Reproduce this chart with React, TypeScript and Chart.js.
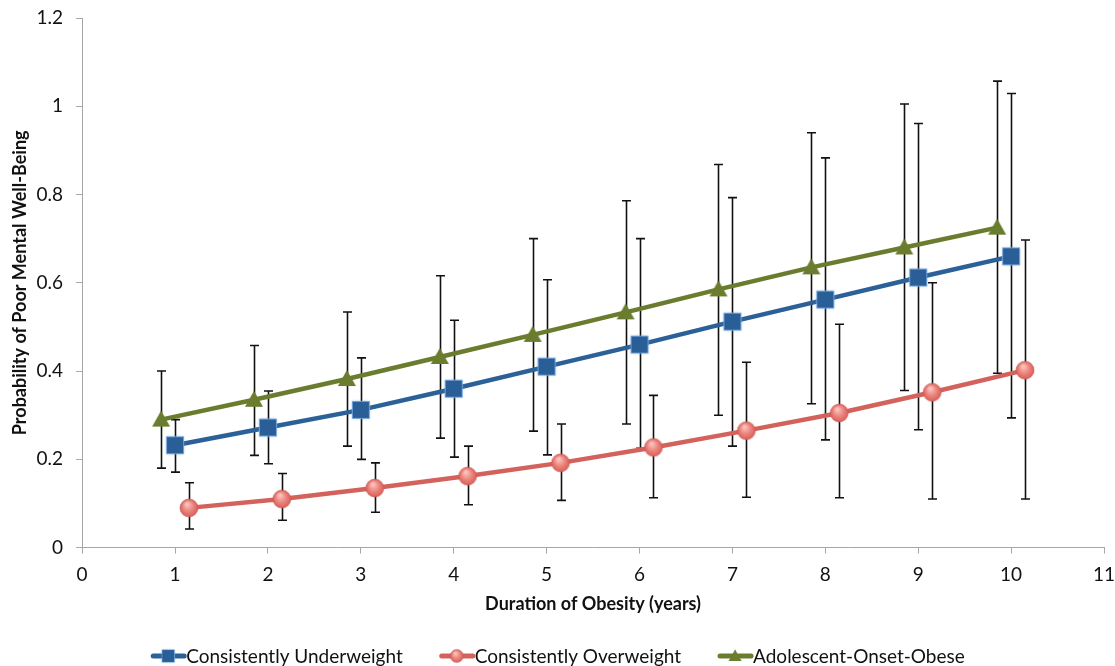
import React, { useEffect, useRef } from "react";
import { Chart, registerables } from "chart.js";

Chart.register(...registerables);

const durations = [1, 2, 3, 4, 5, 6, 7, 8, 9, 10];

const underweight = [0.232, 0.272, 0.312, 0.36, 0.41, 0.46, 0.512, 0.562, 0.612, 0.66];
const underweightLow = [0.171, 0.19, 0.2, 0.205, 0.21, 0.225, 0.23, 0.244, 0.267, 0.294];
const underweightHigh = [0.29, 0.355, 0.43, 0.515, 0.607, 0.70, 0.793, 0.883, 0.961, 1.029];

const overweight = [0.09, 0.11, 0.135, 0.162, 0.192, 0.227, 0.265, 0.305, 0.352, 0.402];
const overweightLow = [0.042, 0.062, 0.08, 0.097, 0.107, 0.113, 0.114, 0.113, 0.11, 0.11];
const overweightHigh = [0.147, 0.168, 0.192, 0.23, 0.28, 0.345, 0.42, 0.506, 0.60, 0.697];

const adolescent = [0.29, 0.335, 0.382, 0.432, 0.482, 0.533, 0.585, 0.635, 0.68, 0.725];
const adolescentLow = [0.18, 0.209, 0.23, 0.248, 0.264, 0.28, 0.30, 0.326, 0.356, 0.395];
const adolescentHigh = [0.40, 0.458, 0.534, 0.616, 0.70, 0.786, 0.868, 0.94, 1.005, 1.057];

const seriesNames = ["Consistently Underweight", "Consistently Overweight", "Adolescent-Onset-Obese"];
const yTicks = [0, 0.2, 0.4, 0.6, 0.8, 1, 1.2];

const BLUE = "#2c6198";
const RED = "#d4625c";
const GREEN = "#6a7d2e";
const FONT = "Lato";

function makeMarker(kind: string): HTMLCanvasElement {
  const w = 22;
  const h = 22;
  const c = document.createElement("canvas");
  c.width = w;
  c.height = h;
  const ctx = c.getContext("2d")!;
  const cx = w / 2;
  const cy = h / 2;
  if (kind === "square") {
    ctx.shadowColor = "rgba(120,170,230,0.9)";
    ctx.shadowBlur = 3;
    ctx.fillStyle = "#2a5e96";
    ctx.fillRect(cx - 8, cy - 8, 16, 16);
    ctx.shadowBlur = 0;
    ctx.strokeStyle = "rgba(110,160,215,0.9)";
    ctx.lineWidth = 1;
    ctx.strokeRect(cx - 8.5, cy - 8.5, 17, 17);
  } else if (kind === "circle") {
    const g = ctx.createRadialGradient(cx - 2, cy - 4, 1, cx, cy, 9);
    g.addColorStop(0, "#fbc3bd");
    g.addColorStop(0.5, "#ee8882");
    g.addColorStop(1, "#d85f58");
    ctx.fillStyle = g;
    ctx.beginPath();
    ctx.arc(cx, cy, 9, 0, Math.PI * 2);
    ctx.fill();
    ctx.strokeStyle = "rgba(200,90,85,0.6)";
    ctx.lineWidth = 1;
    ctx.stroke();
  } else {
    ctx.fillStyle = GREEN;
    ctx.beginPath();
    ctx.moveTo(cx, cy - 9);
    ctx.lineTo(cx + 9, cy + 7);
    ctx.lineTo(cx - 9, cy + 7);
    ctx.closePath();
    ctx.fill();
  }
  return c;
}

const errorBarPlugin = {
  id: "errorBars",
  beforeDatasetsDraw(chart: any) {
    const ctx = chart.ctx;
    const yScale = chart.scales.y;
    ctx.save();
    ctx.strokeStyle = "#111";
    ctx.lineWidth = 1.6;
    chart.data.datasets.forEach((ds: any, i: number) => {
      const meta = chart.getDatasetMeta(i);
      meta.data.forEach((pt: any, j: number) => {
        const x = Math.round(pt.x) + 0.5;
        const yl = yScale.getPixelForValue(ds.errLow[j]);
        const yh = yScale.getPixelForValue(ds.errHigh[j]);
        ctx.beginPath();
        ctx.moveTo(x, yl);
        ctx.lineTo(x, yh);
        ctx.moveTo(x - 4.5, yl);
        ctx.lineTo(x + 4.5, yl);
        ctx.moveTo(x - 4.5, yh);
        ctx.lineTo(x + 4.5, yh);
        ctx.stroke();
      });
    });
    ctx.restore();
  },
};

const bottomLegendPlugin = {
  id: "bottomLegend",
  afterDraw(chart: any) {
    const ctx = chart.ctx;
    const datasets = chart.data.datasets;
    const lineLen = 36;
    const gap = 36;
    ctx.save();
    ctx.font = `19px ${FONT}`;
    ctx.textBaseline = "middle";
    ctx.textAlign = "left";
    const widths = datasets.map((ds: any) => lineLen + ctx.measureText(ds.label).width);
    const total = widths.reduce((a: number, b: number) => a + b, 0) + gap * (datasets.length - 1);
    let x = (chart.width - total) / 2;
    const cy = chart.height - 10;
    datasets.forEach((ds: any, i: number) => {
      ctx.strokeStyle = ds.borderColor;
      ctx.lineWidth = 5;
      ctx.lineCap = "round";
      ctx.beginPath();
      ctx.moveTo(x + 3, cy);
      ctx.lineTo(x + lineLen - 2, cy);
      ctx.stroke();
      const img = ds.pointStyle;
      ctx.drawImage(img, x + lineLen / 2 - 8, cy - 8, 16, 16);
      ctx.fillStyle = "#111";
      ctx.fillText(ds.label, x + lineLen, cy + 1);
      x += widths[i] + gap;
    });
    ctx.restore();
  },
};

export default function App() {
  const ref = useRef<HTMLCanvasElement>(null);
  useEffect(() => {
    document.body.style.margin = "0";
    const markers = {
      square: makeMarker("square"),
      circle: makeMarker("circle"),
      triangle: makeMarker("triangle"),
    };
    const build = (vals: number[], off: number) => vals.map((v, i) => ({ x: durations[i] + off, y: v }));
    const chart = new Chart(ref.current!, {
      type: "line",
      data: {
        datasets: [
          {
            label: seriesNames[0],
            data: build(underweight, 0),
            errLow: underweightLow,
            errHigh: underweightHigh,
            borderColor: BLUE,
            borderWidth: 4.5,
            pointStyle: markers.square,
            order: 2,
          } as any,
          {
            label: seriesNames[1],
            data: build(overweight, 0.15),
            errLow: overweightLow,
            errHigh: overweightHigh,
            borderColor: RED,
            borderWidth: 4.5,
            pointStyle: markers.circle,
            order: 3,
          } as any,
          {
            label: seriesNames[2],
            data: build(adolescent, -0.15),
            errLow: adolescentLow,
            errHigh: adolescentHigh,
            borderColor: GREEN,
            borderWidth: 4.5,
            pointStyle: markers.triangle,
            order: 1,
          } as any,
        ],
      },
      options: {
        animation: false,
        responsive: false,
        layout: { padding: { top: 4, right: 0, left: 9, bottom: 51 } },
        plugins: {
          tooltip: { enabled: false },
          legend: { display: false },
        },
        scales: {
          x: {
            type: "linear",
            min: 0,
            max: 11,
            afterFit: (s: any) => {
              s.paddingRight = 11;
            },
            ticks: { stepSize: 1, color: "#111", font: { family: FONT, size: 19 }, padding: 10 },
            grid: { display: true, drawOnChartArea: false, tickLength: 6, color: "#a6a6a6" },
            border: { color: "#a6a6a6", width: 1 },
            title: {
              display: true,
              text: "Duration of Obesity (years)",
              color: "#111",
              font: { family: FONT, size: 18, weight: "bold" },
              padding: { top: -3, bottom: 0 },
            },
          },
          y: {
            min: 0,
            max: 1.2,
            afterFit: (s: any) => {
              s.paddingTop = 18;
            },
            afterBuildTicks: (s: any) => {
              s.ticks = yTicks.map((v) => ({ value: v }));
            },
            ticks: {
              color: "#111",
              font: { family: FONT, size: 19 },
              padding: 13,
              callback: (v: any) => String(Math.round(Number(v) * 10) / 10),
            },
            grid: { display: true, drawOnChartArea: false, tickLength: 6, color: "#a6a6a6" },
            border: { color: "#a6a6a6", width: 1 },
            title: {
              display: true,
              text: "Probability of Poor Mental Well-Being",
              color: "#111",
              font: { family: FONT, size: 18, weight: "bold" },
              padding: { top: 0, bottom: -7 },
            },
          },
        },
      } as any,
      plugins: [errorBarPlugin, bottomLegendPlugin],
    });
    return () => chart.destroy();
  }, []);
  return (
    <div style={{ width: 1115, height: 666 }}>
      <canvas ref={ref} width={1115} height={666} />
    </div>
  );
}
